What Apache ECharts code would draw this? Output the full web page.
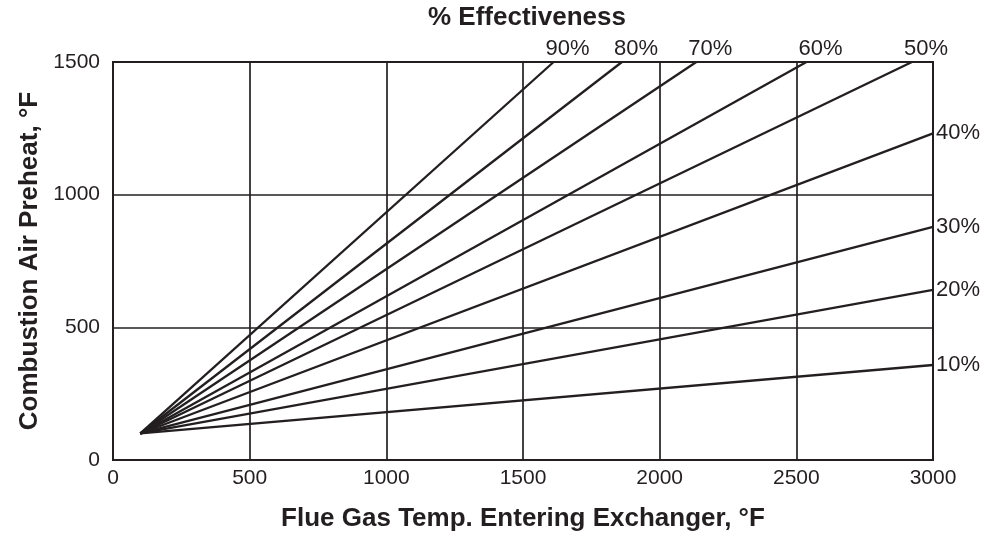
<!DOCTYPE html>
<html lang="en">
<head>
<meta charset="UTF-8">
<title>% Effectiveness</title>
<script src="https://cdn.jsdelivr.net/npm/echarts@6/dist/echarts.min.js"></script>
<style>
  html, body { margin: 0; padding: 0; background: #fff; }
  #main { width: 1003px; height: 538px; }
</style>
</head>
<body>
<div id="main"></div>
<script>
// effectiveness lines, all start at the same point
var effLabels = ['90%', '80%', '70%', '60%', '50%', '40%', '30%', '20%', '10%'];
var startPoint = [100, 100];
var endX = [1612, 1862, 2134, 2537, 2923, 3000, 3000, 3000, 3000];
var endY = [1500, 1500, 1500, 1500, 1500, 1231, 879, 641, 358];

var ink = '#231f20';
var font = 'Liberation Sans, Arial, sans-serif';

var series = effLabels.map(function (name, i) {
  var atTop = endY[i] >= 1500;
  return {
    name: name,
    type: 'line',
    symbol: 'circle',
    symbolSize: 0,
    silent: true,
    lineStyle: { color: ink, width: 2.3 },
    data: [
      startPoint,
      {
        value: [endX[i], endY[i]],
        label: {
          show: true,
          formatter: name,
          position: atTop ? 'top' : 'right',
          distance: atTop ? 2 : 3,
          offset: atTop ? [14, 0] : [0, 0],
          color: ink,
          fontFamily: font,
          fontSize: 22
        }
      }
    ]
  };
});

var plain = function (v) { return String(v); };

var myChart = echarts.init(document.getElementById('main'));
var option = {
  animation: false,
  title: {
    text: '% Effectiveness',
    left: 522,
    top: 0,
    textAlign: 'center',
    textStyle: { color: ink, fontFamily: font, fontSize: 26, fontWeight: 'bold' }
  },
  grid: {
    left: 113, right: 70, top: 62, bottom: 78,
    show: true, borderColor: ink, borderWidth: 2
  },
  xAxis: {
    type: 'value',
    min: 0, max: 3000, interval: 500,
    name: 'Flue Gas Temp. Entering Exchanger, °F',
    nameLocation: 'middle',
    nameGap: 46,
    nameTextStyle: { color: ink, fontFamily: font, fontSize: 26, fontWeight: 'bold' },
    axisLine: { show: true, lineStyle: { color: ink, width: 2 } },
    axisTick: { show: false },
    axisLabel: { color: ink, fontFamily: font, fontSize: 21, margin: 8, formatter: plain },
    splitLine: { show: true, lineStyle: { color: ink, width: 1.7 } }
  },
  yAxis: {
    type: 'value',
    min: 0, max: 1500, interval: 500,
    name: 'Combustion Air Preheat, °F',
    nameLocation: 'middle',
    nameGap: 66,
    nameTextStyle: { color: ink, fontFamily: font, fontSize: 26, fontWeight: 'bold' },
    axisLine: { show: true, lineStyle: { color: ink, width: 2 } },
    axisTick: { show: false },
    axisLabel: { color: ink, fontFamily: font, fontSize: 21, margin: 13, formatter: plain },
    splitLine: { show: true, lineStyle: { color: ink, width: 1.7 } }
  },
  series: series
};
myChart.setOption(option);
</script>
</body>
</html>
